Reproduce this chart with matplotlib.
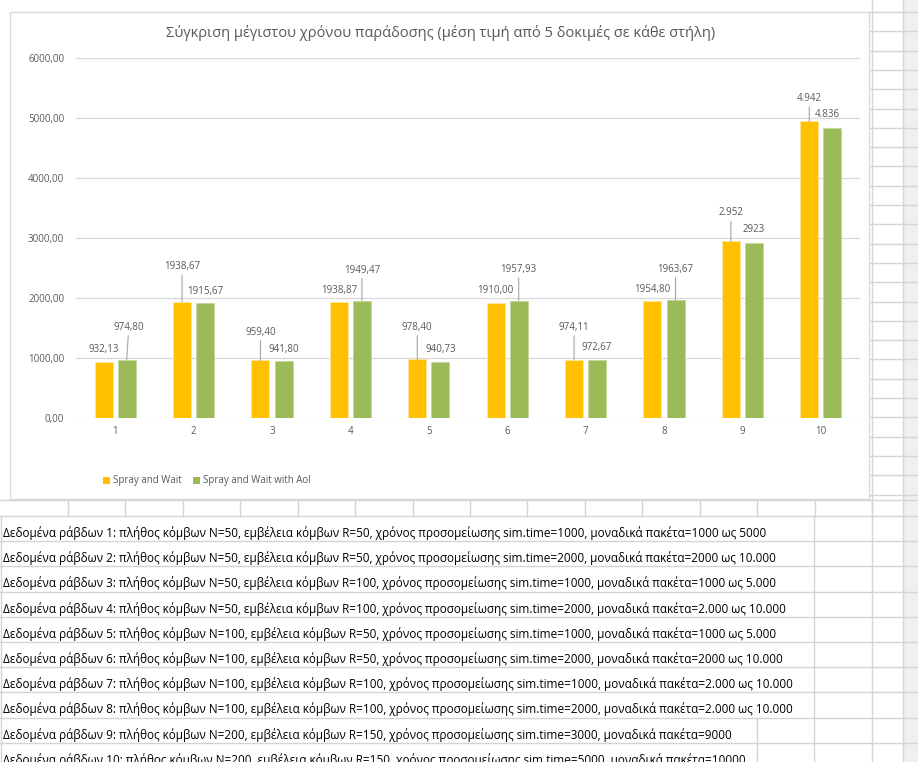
import matplotlib
matplotlib.use("Agg")
import matplotlib.pyplot as plt
from matplotlib.lines import Line2D
from matplotlib.patches import Rectangle, Patch

plt.rcParams['font.family'] = ['Open Sans', 'DejaVu Sans']

# ---- data ----
categories = [1, 2, 3, 4, 5, 6, 7, 8, 9, 10]
series_names = ["Spray and Wait", "Spray and Wait with AoI"]
spray_wait = [932.13, 1938.67, 959.40, 1938.87, 978.40, 1910.00, 974.11, 1954.80, 2952, 4942]
spray_wait_aoi = [974.80, 1915.67, 941.80, 1949.47, 940.73, 1957.93, 972.67, 1963.67, 2923, 4836]
spray_wait_text = ["932,13", "1938,67", "959,40", "1938,87", "978,40",
                   "1910,00", "974,11", "1954,80", "2.952", "4.942"]
spray_wait_aoi_text = ["974,80", "1915,67", "941,80", "1949,47", "940,73",
                       "1957,93", "972,67", "1963,67", "2923", "4.836"]
y_ticks = [0, 1000, 2000, 3000, 4000, 5000, 6000]
y_tick_labels = ["0,00", "1000,00", "2000,00", "3000,00", "4000,00", "5000,00", "6000,00"]
title = "Σύγκριση μέγιστου χρόνου παράδοσης (μέση τιμή από 5 δοκιμές σε κάθε στήλη)"
row_notes = [
    "Δεδομένα ράβδων 1: πλήθος κόμβων N=50, εμβέλεια κόμβων R=50, χρόνος προσομείωσης sim.time=1000, μοναδικά πακέτα=1000 ως 5000",
    "Δεδομένα ράβδων 2: πλήθος κόμβων N=50, εμβέλεια κόμβων R=50, χρόνος προσομείωσης sim.time=2000, μοναδικά πακέτα=2000 ως 10.000",
    "Δεδομένα ράβδων 3: πλήθος κόμβων N=50, εμβέλεια κόμβων R=100, χρόνος προσομείωσης sim.time=1000, μοναδικά πακέτα=1000 ως 5.000",
    "Δεδομένα ράβδων 4: πλήθος κόμβων N=50, εμβέλεια κόμβων R=100, χρόνος προσομείωσης sim.time=2000, μοναδικά πακέτα=2.000 ως 10.000",
    "Δεδομένα ράβδων 5: πλήθος κόμβων N=100, εμβέλεια κόμβων R=50, χρόνος προσομείωσης sim.time=1000, μοναδικά πακέτα=1000 ως 5.000",
    "Δεδομένα ράβδων 6: πλήθος κόμβων N=100, εμβέλεια κόμβων R=50, χρόνος προσομείωσης sim.time=2000, μοναδικά πακέτα=2000 ως 10.000",
    "Δεδομένα ράβδων 7: πλήθος κόμβων N=100, εμβέλεια κόμβων R=100, χρόνος προσομείωσης sim.time=1000, μοναδικά πακέτα=2.000 ως 10.000",
    "Δεδομένα ράβδων 8: πλήθος κόμβων N=100, εμβέλεια κόμβων R=100, χρόνος προσομείωσης sim.time=2000, μοναδικά πακέτα=2.000 ως 10.000",
    "Δεδομένα ράβδων 9: πλήθος κόμβων N=200, εμβέλεια κόμβων R=150, χρόνος προσομείωσης sim.time=3000, μοναδικά πακέτα=9000",
    "Δεδομένα ράβδων 10: πλήθος κόμβων N=200, εμβέλεια κόμβων R=150, χρόνος προσομείωσης sim.time=5000, μοναδικά πακέτα=10000",
]

# ---- label placement (pixel offset above bar top, leader line flag) ----
spray_label_dy = [13, 35, 28, 11, 32, 13, 32, 11, 28, 23]
spray_leader = [False, True, True, False, True, False, True, False, True, True]
aoi_label_dy = [32, 12, 12, 31, 12, 31, 12, 31, 13, 13]
aoi_label_dx = [2, 0, 0, 0, 0, 0, 0, 0, 0, -5]
aoi_leader = [True, False, False, True, False, True, False, True, False, False]

# ---- style ----
W, H = 918, 762
YELLOW = "#FFC000"
GREEN = "#9BBB59"
TEXT_GRAY = "#595959"
CHART_GRID = "#d9d9d9"
SHEET_GRID = "#d4d4d4"
SMALL = 7.0

fig = plt.figure(figsize=(W / 100, H / 100), dpi=100)
fig.patch.set_facecolor("white")


def fx(x):
    return x / W


def fy(y):
    return 1 - y / H


def hline(y, x0, x1, color=SHEET_GRID, lw=1.0, z=0):
    fig.add_artist(Line2D([fx(x0), fx(x1)], [fy(y), fy(y)], transform=fig.transFigure,
                          color=color, lw=lw, zorder=z))


def vline(x, y0, y1, color=SHEET_GRID, lw=1.0, z=0):
    fig.add_artist(Line2D([fx(x), fx(x)], [fy(y0), fy(y1)], transform=fig.transFigure,
                          color=color, lw=lw, zorder=z))


# ---- worksheet background ----
fig.add_artist(Rectangle((fx(903), 0), 1 - fx(903), 1, transform=fig.transFigure,
                         facecolor="#efefef", edgecolor="none", zorder=-1))
# rows beside the chart
y = 12.0
while y < 500:
    hline(y, 869, W)
    y += 19.3
hline(500, 0, W)
hline(516, 0, W)
# column dividers in the row below the chart
for k in range(15):
    vline(68 + 57.43 * k, 500, 516)
vline(903, 0, H)
vline(872, 0, H)
# note rows
row_top = 516.0
row_h = 25.2
for k in range(len(row_notes)):
    top = row_top + k * row_h
    hline(top + row_h, 0, W)
    vline(1, top, top + row_h)
    vline(814, top, top + row_h)
    if k >= 8:
        vline(757, top, top + row_h)
    fig.text(fx(3), fy(top + 21), row_notes[k], fontsize=8.5, color="black",
             ha="left", va="baseline")

# ---- chart frame ----
fig.add_artist(Rectangle((fx(10), fy(499)), fx(869) - fx(10), fy(12) - fy(499),
                         transform=fig.transFigure, facecolor="white",
                         edgecolor=CHART_GRID, lw=1.0, zorder=1))

# ---- plot area ----
ax = fig.add_axes([fx(76), fy(418), fx(860) - fx(76), fy(58) - fy(418)], zorder=2)
ax.set_facecolor("none")
bw = 0.23
off = 0.147
xs = categories
ax.bar([x - off for x in xs], spray_wait, width=bw, color=YELLOW,
       edgecolor="#ffe699", lw=0.6, zorder=3, label=series_names[0])
ax.bar([x + off for x in xs], spray_wait_aoi, width=bw, color=GREEN,
       edgecolor="#c4d79b", lw=0.6, zorder=3, label=series_names[1])

ax.set_xlim(0.5, 10.5)
ax.set_ylim(0, 6000)
ax.set_yticks(y_ticks)
ax.set_yticklabels(y_tick_labels)
ax.set_xticks(xs)
ax.set_xticklabels([str(c) for c in categories])
ax.tick_params(axis="y", length=0, pad=8.5, labelsize=SMALL, labelcolor=TEXT_GRAY)
ax.tick_params(axis="x", length=0, pad=6, labelsize=SMALL, labelcolor=TEXT_GRAY)
for s in ax.spines.values():
    s.set_visible(False)
ax.grid(axis="y", color=CHART_GRID, lw=0.9, zorder=0)
ax.set_axisbelow(True)

leader = dict(arrowstyle="-", color="#a6a6a6", lw=0.8, shrinkA=0, shrinkB=0)


def put_labels(xpos, vals, texts, dys, dxs, leaders):
    for x, v, t, dy, dx, ld in zip(xpos, vals, texts, dys, dxs, leaders):
        ax.annotate(t, xy=(x, v), xytext=(dx, dy), textcoords="offset pixels",
                    ha="center", va="center", fontsize=SMALL, color=TEXT_GRAY,
                    arrowprops=leader if ld else None, zorder=4)


put_labels([x - off for x in xs], spray_wait, spray_wait_text, spray_label_dy,
           [0] * len(xs), spray_leader)
put_labels([x + off for x in xs], spray_wait_aoi, spray_wait_aoi_text, aoi_label_dy,
           aoi_label_dx, aoi_leader)

# ---- title ----
fig.text(fx(441), fy(33), title, fontsize=10.5, color=TEXT_GRAY, ha="center",
         va="center", zorder=3)

# ---- legend ----
handles = [Patch(facecolor=YELLOW, edgecolor="none"), Patch(facecolor=GREEN, edgecolor="none")]
fig.legend(handles, series_names, loc="center left", bbox_to_anchor=(fx(103), fy(481)),
           ncol=2, frameon=False, fontsize=SMALL, labelcolor=TEXT_GRAY,
           handlelength=0.75, handleheight=0.75, handletextpad=0.3, columnspacing=1.15,
           borderaxespad=0, borderpad=0)

fig.savefig("out.png", dpi=100)
